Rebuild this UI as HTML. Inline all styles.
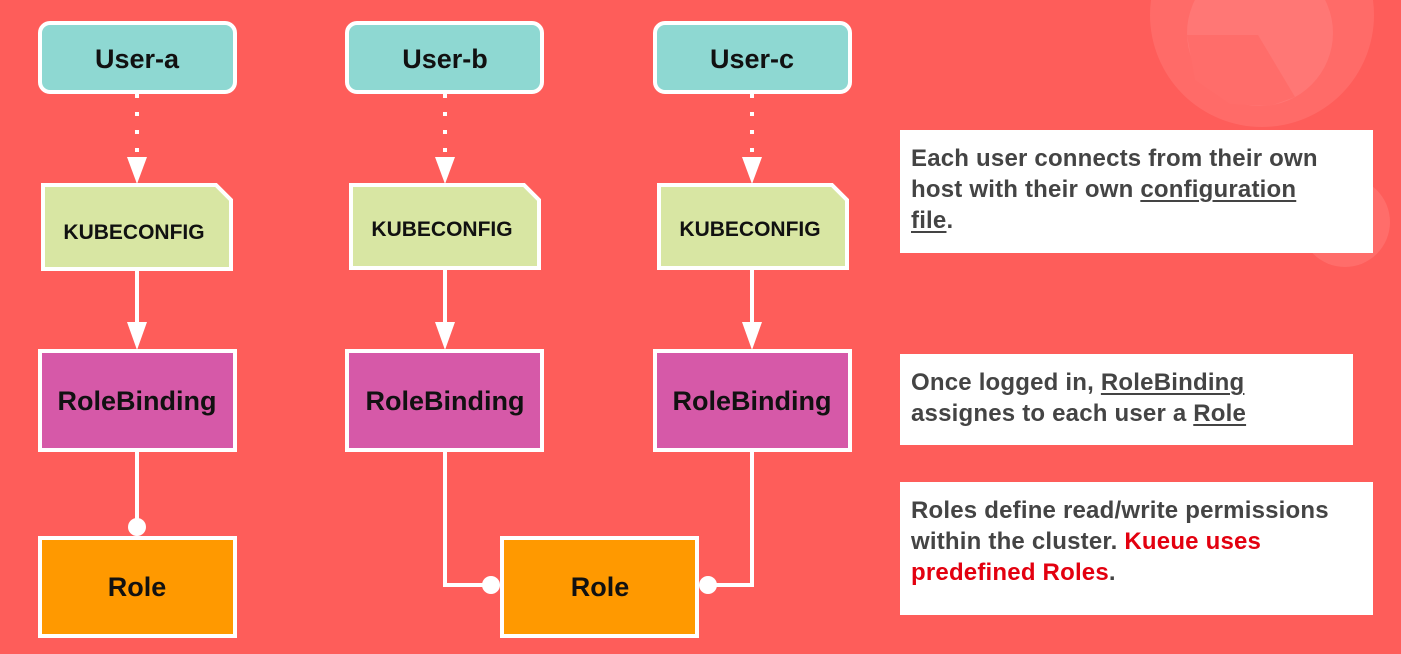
<!DOCTYPE html>
<html><head><meta charset="utf-8"><style>
html,body{margin:0;padding:0;width:1401px;height:654px;overflow:hidden;background:#fe5d5a;font-family:"Liberation Sans",sans-serif}
.tb{position:absolute;background:#fff;color:#444;font-weight:bold;font-size:24px;letter-spacing:0.2px;line-height:31px;padding:13px 0 0 11px;box-sizing:border-box;white-space:nowrap}
.tb u{text-decoration-thickness:2px;text-underline-offset:3px}
.r{color:#e3000f}
</style></head><body>
<svg width="1401" height="654" style="position:absolute;left:0;top:0" font-family="Liberation Sans, sans-serif" font-weight="bold">
<circle cx="1262" cy="15" r="112" fill="#ff6b68"/>
<circle cx="1260" cy="33" r="73" fill="#ff7775"/>
<polygon points="1187,35 1258,35 1295,97 1270,106 1230,104 1195,80" fill="#ff6d6a"/>
<circle cx="1345" cy="222" r="45" fill="#ff6d6a"/>
<g stroke="#fff" stroke-width="4" fill="none">
<line x1="137" y1="94" x2="137" y2="160" stroke-dasharray="4,14"/>
<line x1="445" y1="94" x2="445" y2="160" stroke-dasharray="4,14"/>
<line x1="752" y1="94" x2="752" y2="160" stroke-dasharray="4,14"/>
<line x1="137" y1="269" x2="137" y2="325"/>
<line x1="445" y1="269" x2="445" y2="325"/>
<line x1="752" y1="269" x2="752" y2="325"/>
<line x1="137" y1="450" x2="137" y2="527"/>
<polyline points="445,450 445,585 492,585"/>
<polyline points="752,450 752,585 707,585"/>
</g>
<g fill="#fff">
<polygon points="127,157 147,157 137,184"/>
<polygon points="435,157 455,157 445,184"/>
<polygon points="742,157 762,157 752,184"/>
<polygon points="127,322 147,322 137,350"/>
<polygon points="435,322 455,322 445,350"/>
<polygon points="742,322 762,322 752,350"/>
<circle cx="137" cy="527" r="9"/>
<circle cx="491" cy="585" r="9"/>
<circle cx="708" cy="585" r="9"/>
</g>
<g stroke="#fff" stroke-width="4">
<rect x="40" y="23" width="195" height="69" rx="10" fill="#8ed8d2"/>
<rect x="347" y="23" width="195" height="69" rx="10" fill="#8ed8d2"/>
<rect x="655" y="23" width="195" height="69" rx="10" fill="#8ed8d2"/>
<path d="M43,185 H216 L231,200 V269 H43 Z" fill="#d8e6a3"/>
<path d="M351,185 H524 L539,200 V268 H351 Z" fill="#d8e6a3"/>
<path d="M659,185 H832 L847,200 V268 H659 Z" fill="#d8e6a3"/>
<rect x="40" y="351" width="195" height="99" fill="#d659a8"/>
<rect x="347" y="351" width="195" height="99" fill="#d659a8"/>
<rect x="655" y="351" width="195" height="99" fill="#d659a8"/>
<rect x="40" y="538" width="195" height="98" fill="#ff9900"/>
<rect x="502" y="538" width="195" height="98" fill="#ff9900"/>
</g>
<g fill="#111" text-anchor="middle">
<text x="137" y="68" font-size="27">User-a</text>
<text x="445" y="68" font-size="27">User-b</text>
<text x="752" y="68" font-size="27">User-c</text>
<text x="134" y="239" font-size="21">KUBECONFIG</text>
<text x="442" y="236" font-size="21">KUBECONFIG</text>
<text x="750" y="236" font-size="21">KUBECONFIG</text>
<text x="137" y="410" font-size="27">RoleBinding</text>
<text x="445" y="410" font-size="27">RoleBinding</text>
<text x="752" y="410" font-size="27">RoleBinding</text>
<text x="137" y="596" font-size="27">Role</text>
<text x="600" y="596" font-size="27">Role</text>
</g>
</svg>
<div class="tb" style="left:900px;top:130px;width:473px;height:123px">Each user connects from their own<br>host with their own <u>configuration</u><br><u>file</u>.</div>
<div class="tb" style="left:900px;top:354px;width:453px;height:91px">Once logged in, <u>RoleBinding</u><br>assignes to each user a <u>Role</u></div>
<div class="tb" style="left:900px;top:482px;width:473px;height:133px">Roles define read/write permissions<br>within the cluster. <span class="r">Kueue uses</span><br><span class="r">predefined Roles</span>.</div>
</body></html>
